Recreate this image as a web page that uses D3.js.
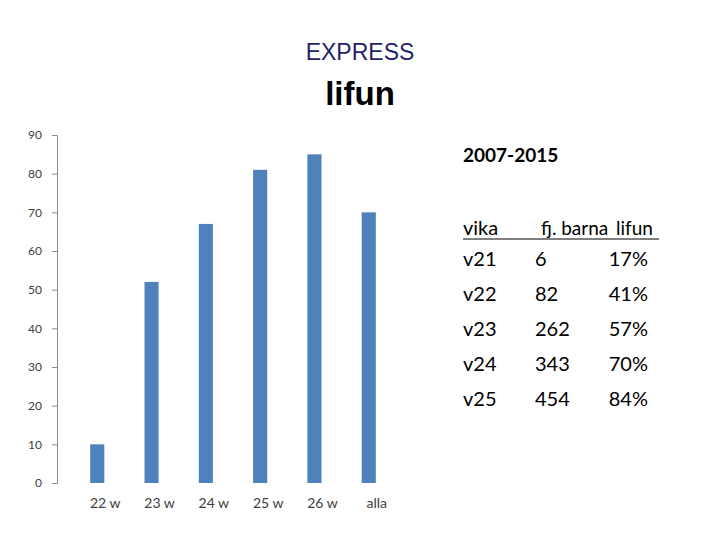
<!DOCTYPE html>
<html>
<head>
<meta charset="utf-8">
<script src="https://cdnjs.cloudflare.com/ajax/libs/d3/7.8.5/d3.min.js"></script>
<style>
body { margin: 0; background: #fff; }
text { font-family: Lato, "Open Sans", sans-serif; }
</style>
</head>
<body>
<svg id="chart" width="720" height="540"></svg>
<script>
// chart data
var categories = ["22 w", "23 w", "24 w", "25 w", "26 w", "alla"];
var values = [10, 52, 67, 81, 85, 70];
var yTicks = [0, 10, 20, 30, 40, 50, 60, 70, 80, 90];

// table data
var tableHeader = ["vika", "fj. barna", "lifun"];
var weeks = ["v21", "v22", "v23", "v24", "v25"];
var children = ["6", "82", "262", "343", "454"];
var shares = ["17%", "41%", "57%", "70%", "84%"];

var svg = d3.select("#chart");

svg.append("text").attr("x", 360).attr("y", 60).attr("text-anchor", "middle")
	.style("font-family", "Liberation Sans, Arial").style("font-size", "23px").attr("fill", "#1f1f6b")
	.text("EXPRESS");
svg.append("text").attr("x", 360).attr("y", 105).attr("text-anchor", "middle")
	.style("font-family", "Liberation Sans, Arial").style("font-size", "33px").style("font-weight", "bold")
	.text("lifun");

var x = d3.scaleBand().domain(categories).range([50, 416]).padding(0.74);
var y = d3.scaleLinear().domain([0, 90]).range([483, 135]);

var yAxis = svg.append("g").attr("transform", "translate(57,0)")
	.call(d3.axisLeft(y).tickValues(yTicks).tickSize(5).tickPadding(10));
yAxis.selectAll("text").style("font-size", "12px").attr("fill", "#404040");
yAxis.selectAll("line, path").attr("stroke", "#8c8c8c");

var xAxis = svg.append("g").attr("transform", "translate(8,483)")
	.call(d3.axisBottom(x).tickSize(0).tickPadding(15));
xAxis.select("path").remove();
xAxis.selectAll("text").style("font-size", "14px").attr("fill", "#404040");

svg.selectAll("rect.bar").data(values).enter().append("rect")
	.attr("class", "bar")
	.attr("x", function(d, i) { return x(categories[i]); })
	.attr("width", x.bandwidth())
	.attr("y", function(d) { return y(d); })
	.attr("height", function(d) { return 483 - y(d); })
	.attr("fill", "#4f81bd");

// table on the right
svg.append("text").attr("x", 463).attr("y", 162).style("font-size", "19px").style("font-weight", "bold").text("2007-2015");

var head = svg.append("text").attr("y", 235).style("font-size", "20px");
head.append("tspan").attr("x", 463).text(tableHeader[0]);
head.append("tspan").attr("x", 541).style("font-size", "19px").text(tableHeader[1]);
head.append("tspan").attr("x", 616).style("font-size", "19px").text(tableHeader[2]);
svg.append("line").attr("x1", 463).attr("x2", 659).attr("y1", 239).attr("y2", 239).attr("stroke", "#000");

weeks.forEach(function(w, i) {
	var yy = 266 + i * 35;
	svg.append("text").attr("x", 463).attr("y", yy).style("font-size", "20px").text(w);
	svg.append("text").attr("x", 535).attr("y", yy).style("font-size", "20px").text(children[i]);
	svg.append("text").attr("x", 648).attr("y", yy).attr("text-anchor", "end").style("font-size", "20px").text(shares[i]);
});
</script>
</body>
</html>
